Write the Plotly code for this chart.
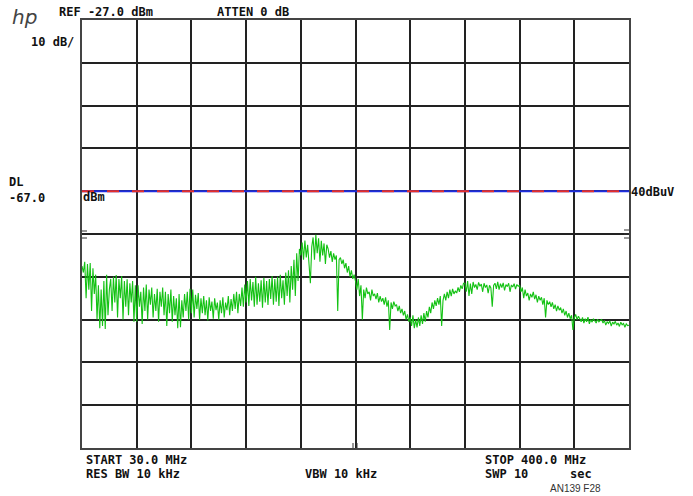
import numpy as np
import plotly.graph_objects as go

# ---- instrument settings ----
START_MHZ = 30.0
STOP_MHZ = 400.0
REF_DBM = -27.0
DB_PER_DIV = 10.0
N_DIV = 10
DL_DBM = -67.0

# ---- trace levels (dBm), 401 sweep points from START to STOP ----
level_dbm = [
    -84.5, -86, -83.5, -92, -84, -90, -83.8, -95, -85, -91, -86.5, -97, -89, -99, -90, -98.5, -88, -99.2, -86.5, -96,
    -90, -87.5, -95, -87, -93, -86.6, -96.5, -87.5, -92, -86.8, -97, -88, -94, -87.6, -96, -88.5, -93, -88, -97.5, -89,
    -97.5, -89, -94, -90.5, -98, -89.5, -95, -88.8, -97, -90, -93.5, -89.5, -96.5, -91, -95, -89.8, -97.5, -90.5, -94, -89.5,
    -96, -90.5, -98.5, -91, -95.5, -90, -97.5, -91.5, -96, -92, -99, -91, -98.8, -92.5, -96.5, -91, -95, -90.5, -97, -89.8,
    -95.5, -90, -96.5, -91.2, -94.5, -90.8, -97, -92, -95.5, -91.5, -96, -92.5, -97.2, -91.8, -95, -92.8, -96.8, -92, -94.8, -93,
    -97, -92.5, -95.5, -91.8, -96.5, -93, -94.8, -91.5, -96, -92.2, -95, -91, -94.5, -90.5, -95.5, -91, -93.8, -89.5, -94, -88.8,
    -93, -88, -93.8, -87.5, -92.5, -88.2, -94, -87, -93.5, -88.5, -92.8, -87.8, -94.2, -87.2, -93, -88, -93.6, -87.5, -92.2, -86.8,
    -93.5, -87.5, -92.8, -87, -93.8, -86.5, -92, -87.8, -93.5, -86, -91.5, -85.5, -93, -84.5, -90, -83, -91.5, -81.5, -88, -80.5,
    -82, -79, -83, -78.5, -82.5, -79.5, -84, -88.5, -80, -77.8, -83, -77.2, -81.5, -78, -83.5, -78.6, -82, -79.2, -84, -79.5,
    -80.5, -82.5, -81, -83.5, -81.5, -83, -82, -95, -83, -82.5, -84, -83, -85, -83.8, -86, -84.5, -87, -85.5, -87.5, -86.5,
    -88, -90, -87.5, -91.5, -89, -97, -90, -92, -89.5, -91, -90.5, -92.5, -90, -91.5, -91, -92.2, -90.8, -93, -91.5, -92.8,
    -92, -93.5, -91.8, -94, -92.5, -99.4, -93, -94.5, -92.8, -93.8, -93.5, -95, -93.8, -95.5, -94.5, -96, -95, -97, -95.8, -97.5,
    -96.5, -98.5, -96, -99, -97, -98.8, -96.5, -98.5, -96, -98, -95.5, -97.5, -95, -96.5, -94, -95.5, -93, -94.5, -92.5, -93.8,
    -92, -93.5, -91.5, -98.5, -92.5, -91, -92.5, -90.5, -92, -90, -91.5, -89.8, -91, -90.3, -90.8, -89.5, -90.5, -89, -89.8, -88.5,
    -88.5, -90.5, -88, -91.5, -88.6, -91, -88.2, -89.5, -88.8, -90, -88.3, -89.2, -88.7, -90.5, -88.5, -89.5, -88.9, -90.8, -89, -89.6,
    -94, -89, -88.5, -89.8, -88.2, -90, -88.6, -89.5, -88.4, -90.2, -88.8, -89.3, -88.5, -90.5, -88.9, -89.4, -88.6, -89.9, -88.8, -89.2,
    -89, -90.5, -89.5, -92, -90, -91.5, -90.8, -92.5, -91, -91.8, -90.5, -92.2, -91.2, -93, -91.5, -92.5, -91.8, -93.5, -92, -96.5,
    -92.5, -93.5, -92.8, -94, -93, -94.5, -93.5, -95, -93.8, -94.8, -94.2, -95.5, -94.5, -96, -95, -96.5, -95.5, -96.8, -96, -99.4,
    -96.5, -95.8, -97, -96.2, -96.8, -97.5, -96.5, -97.8, -96.8, -97.5, -96.4, -98, -97, -97.6, -96.8, -97.3, -97.8, -96.9, -97.5, -97.2,
    -97, -97.8, -97.2, -98.3, -97.5, -97.9, -97.3, -98.5, -97.6, -98, -97.4, -98.3, -97.8, -98.6, -97.6, -98.2, -97.9, -98.8, -98, -98.4,
    -98.3,
]

freq_mhz = np.linspace(START_MHZ, STOP_MHZ, len(level_dbm))
bottom_dbm = REF_DBM - N_DIV * DB_PER_DIV

fig = go.Figure()

# display line: blue solid under red dashes
fig.add_trace(go.Scatter(x=[START_MHZ, STOP_MHZ], y=[DL_DBM, DL_DBM], mode="lines",
                         line=dict(color="#1f2ee0", width=2), hoverinfo="skip"))
fig.add_trace(go.Scatter(x=[START_MHZ, STOP_MHZ], y=[DL_DBM, DL_DBM], mode="lines",
                         line=dict(color="#e8302a", width=2, dash="12px,13px"), hoverinfo="skip"))

fig.add_trace(go.Scatter(x=freq_mhz, y=level_dbm, mode="lines",
                         line=dict(color="#14c214", width=1.1), hoverinfo="skip"))

axis_common = dict(showticklabels=False, ticks="", zeroline=False,
                   showgrid=True, gridcolor="#222222", gridwidth=1.5,
                   showline=True, linecolor="#444444", linewidth=2, mirror=True)

fig.update_xaxes(range=[START_MHZ, STOP_MHZ], tick0=START_MHZ,
                 dtick=(STOP_MHZ - START_MHZ) / N_DIV, **axis_common)
fig.update_yaxes(range=[bottom_dbm, REF_DBM], tick0=bottom_dbm,
                 dtick=DB_PER_DIV, **axis_common)

FONT = dict(family="DejaVu Sans Mono", size=12, color="#111111")

def px_x(px):
    return (px - 82) / 547.0

def px_y(py):
    return (448 - py) / 428.0

texts = [
    ("<b>REF -27.0 dBm</b>", 57, 12),
    ("<b>ATTEN 0 dB</b>", 215, 12),
    ("<b>10 dB/</b>", 29, 42),
    ("<b>DL</b>", 7, 182),
    ("<b>-67.0</b>", 7, 198),
    ("<b>dBm</b>", 81, 197),
    ("<b>40dBuV</b>", 629, 192),
    ("<b>START 30.0 MHz</b>", 84, 460),
    ("<b>RES BW 10 kHz</b>", 84, 474),
    ("<b>VBW 10 kHz</b>", 303, 474),
    ("<b>STOP 400.0 MHz</b>", 483, 460),
    ("<b>SWP 10</b>", 483, 474),
    ("<b>sec</b>", 568, 474),
]
annotations = []
for t, x, y in texts:
    annotations.append(dict(text=t, x=px_x(x), y=px_y(y), xref="paper", yref="paper",
                            xanchor="left", yanchor="middle", showarrow=False, font=FONT))
annotations.append(dict(text="AN139 F28", x=px_x(548), y=px_y(489), xref="paper", yref="paper",
                        xanchor="left", yanchor="middle", showarrow=False,
                        font=dict(family="Liberation Sans Narrow, Liberation Sans", size=10, color="#333333")))
annotations.append(dict(text="<i>hp</i>", x=px_x(10), y=px_y(17), xref="paper", yref="paper",
                        xanchor="left", yanchor="middle", showarrow=False,
                        font=dict(family="DejaVu Sans", size=20, color="#444444")))

# small graticule marks
shapes = []
for yy in (231, 238):
    shapes.append(dict(type="line", xref="paper", yref="paper", x0=px_x(82), x1=px_x(87),
                       y0=px_y(yy), y1=px_y(yy), line=dict(color="#333333", width=1)))
for yy in (230, 234, 238):
    shapes.append(dict(type="line", xref="paper", yref="paper", x0=px_x(624), x1=px_x(629),
                       y0=px_y(yy), y1=px_y(yy), line=dict(color="#333333", width=1)))
for xx in (353, 357):
    shapes.append(dict(type="line", xref="paper", yref="paper", x0=px_x(xx), x1=px_x(xx),
                       y0=px_y(448), y1=px_y(443), line=dict(color="#333333", width=1)))

fig.update_layout(width=693, height=496, margin=dict(l=82, r=64, t=20, b=48),
                  paper_bgcolor="white", plot_bgcolor="white", showlegend=False,
                  annotations=annotations, shapes=shapes)

fig.write_html("out.html")
